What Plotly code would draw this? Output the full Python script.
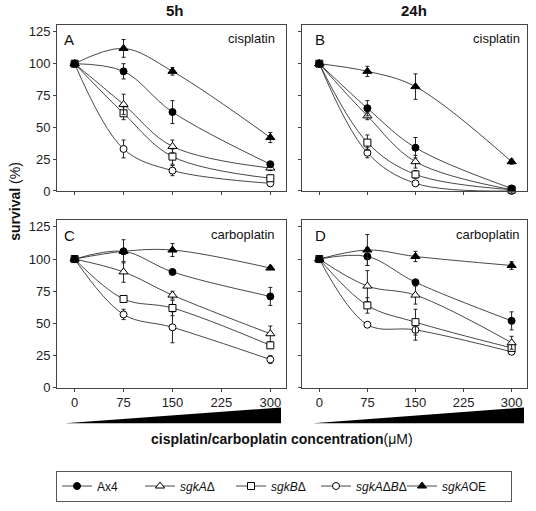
import plotly.graph_objects as go

W, H = 536, 511

conc = [0, 75, 150, 300]
strains = ["Ax4", "sgkAΔ", "sgkBΔ", "sgkAΔBΔ", "sgkAOE"]
legend_names = ["Ax4", "<i>sgkA</i>Δ", "<i>sgkB</i>Δ", "<i>sgkA</i>Δ<i>B</i>Δ", "<i>sgkA</i>OE"]

# survival (%) per panel, per strain
cis_5h = {
    "Ax4": [100, 94, 62, 21],
    "sgkAΔ": [100, 68, 35, 18],
    "sgkBΔ": [100, 61, 27, 10],
    "sgkAΔBΔ": [100, 33, 16, 6],
    "sgkAOE": [100, 112, 94, 42],
}
cis_5h_err = {
    "Ax4": [0, 6, 9, 2],
    "sgkAΔ": [0, 8, 5, 2],
    "sgkBΔ": [0, 5, 6, 2],
    "sgkAΔBΔ": [0, 7, 4, 2],
    "sgkAOE": [0, 7, 3, 4],
}
cis_24h = {
    "Ax4": [100, 65, 34, 2],
    "sgkAΔ": [100, 59, 23, 1],
    "sgkBΔ": [100, 38, 13, 1],
    "sgkAΔBΔ": [100, 30, 6, 0],
    "sgkAOE": [100, 94, 82, 23],
}
cis_24h_err = {
    "Ax4": [0, 6, 8, 1],
    "sgkAΔ": [0, 3, 5, 1],
    "sgkBΔ": [0, 6, 3, 1],
    "sgkAΔBΔ": [0, 4, 2, 0],
    "sgkAOE": [0, 4, 10, 2],
}
carbo_5h = {
    "Ax4": [100, 106, 90, 71],
    "sgkAΔ": [100, 90, 72, 42],
    "sgkBΔ": [100, 69, 62, 33],
    "sgkAΔBΔ": [100, 57, 47, 22],
    "sgkAOE": [100, 106, 107, 93],
}
carbo_5h_err = {
    "Ax4": [0, 9, 1, 7],
    "sgkAΔ": [0, 8, 3, 6],
    "sgkBΔ": [0, 1, 6, 2],
    "sgkAΔBΔ": [0, 4, 12, 3],
    "sgkAOE": [0, 2, 5, 1],
}
carbo_24h = {
    "Ax4": [100, 102, 82, 52],
    "sgkAΔ": [100, 79, 72, 35],
    "sgkBΔ": [100, 64, 51, 31],
    "sgkAΔBΔ": [100, 49, 45, 28],
    "sgkAOE": [100, 107, 102, 95],
}
carbo_24h_err = {
    "Ax4": [0, 7, 1, 7],
    "sgkAΔ": [0, 12, 7, 5],
    "sgkBΔ": [0, 6, 10, 2],
    "sgkAΔBΔ": [0, 1, 8, 2],
    "sgkAOE": [0, 12, 4, 3],
}

y_ticks = [0, 25, 50, 75, 100, 125]
x_ticks = [0, 75, 150, 225, 300]

styles = {
    "Ax4": dict(symbol="circle", color="black", size=7),
    "sgkAΔ": dict(symbol="triangle-up", color="white", size=8),
    "sgkBΔ": dict(symbol="square", color="white", size=7),
    "sgkAΔBΔ": dict(symbol="circle", color="white", size=7),
    "sgkAOE": dict(symbol="triangle-up", color="black", size=8),
}
# legend entry widths (text part), to space the entries like the original
legend_widths = {"Ax4": 38, "sgkAΔ": 46, "sgkBΔ": 40, "sgkAΔBΔ": 41, "sgkAOE": 64}

panels = [
    ("x", "y", cis_5h, cis_5h_err, True),
    ("x2", "y2", cis_24h, cis_24h_err, False),
    ("x3", "y3", carbo_5h, carbo_5h_err, False),
    ("x4", "y4", carbo_24h, carbo_24h_err, False),
]

FONT = "Arial, Liberation Sans, sans-serif"
fig = go.Figure()

draw_order = ["sgkAΔBΔ", "sgkBΔ", "sgkAΔ", "Ax4", "sgkAOE"]
for xa, ya, data, err, showleg in panels:
    for s in draw_order:
        st = styles[s]
        fig.add_trace(go.Scatter(
            x=conc, y=data[s], xaxis=xa, yaxis=ya,
            mode="lines+markers",
            name=legend_names[strains.index(s)],
            legendgroup=s, showlegend=showleg,
            legendrank=strains.index(s),
            legendwidth=legend_widths[s],
            line=dict(color="#333333", width=0.9, shape="spline", smoothing=1.0),
            marker=dict(symbol=st["symbol"], size=st["size"], color=st["color"],
                        line=dict(color="black", width=1)),
            error_y=dict(type="data", array=err[s], visible=True,
                         color="#222222", thickness=1, width=2),
            cliponaxis=False,
        ))

def px_x(p):
    return p / W

def px_y(p):
    return 1 - p / H

colA = [px_x(57), px_x(286)]
colB = [px_x(302), px_x(527)]
rowT = [px_y(194), px_y(25)]
rowB = [px_y(394), px_y(223)]

axis_common = dict(showline=True, linecolor="#444444", linewidth=1, mirror=True,
                   ticks="outside", ticklen=3, tickcolor="#444444", tickwidth=1,
                   showgrid=False, zeroline=False,
                   tickfont=dict(family=FONT, size=13, color="#222222"))
xr = [-27, 324]
yr = [0, 130.7]

layout_axes = {
    "xaxis": dict(domain=colA, anchor="y", range=xr, tickvals=x_ticks, showticklabels=False, **axis_common),
    "yaxis": dict(domain=rowT, anchor="x", range=yr, tickvals=y_ticks, showticklabels=True, **axis_common),
    "xaxis2": dict(domain=colB, anchor="y2", range=xr, tickvals=x_ticks, showticklabels=False, **axis_common),
    "yaxis2": dict(domain=rowT, anchor="x2", range=yr, tickvals=y_ticks, showticklabels=False, **axis_common),
    "xaxis3": dict(domain=colA, anchor="y3", range=xr, tickvals=x_ticks, showticklabels=True, **axis_common),
    "yaxis3": dict(domain=rowB, anchor="x3", range=yr, tickvals=y_ticks, showticklabels=True, **axis_common),
    "xaxis4": dict(domain=colB, anchor="y4", range=xr, tickvals=x_ticks, showticklabels=True, **axis_common),
    "yaxis4": dict(domain=rowB, anchor="x4", range=yr, tickvals=y_ticks, showticklabels=False, **axis_common),
}

def ann(text, x, y, size, xanchor="center", textangle=0):
    return dict(text=text, x=px_x(x), y=px_y(y), xref="paper", yref="paper",
                xanchor=xanchor, yanchor="middle", showarrow=False, textangle=textangle,
                font=dict(family=FONT, size=size, color="#111111"))

annotations = [
    ann("<b>5h</b>", 175, 11, 15),
    ann("<b>24h</b>", 414, 11, 15),
    ann("A", 62, 40, 15, "left"),
    ann("B", 313, 40, 15, "left"),
    ann("C", 62, 239, 15, "left"),
    ann("D", 313, 239, 15, "left"),
    ann("cisplatin", 277, 39, 13, "right"),
    ann("cisplatin", 522, 39, 13, "right"),
    ann("carboplatin", 277, 238, 13, "right"),
    ann("carboplatin", 522, 238, 13, "right"),
    ann("<b>cisplatin/carboplatin concentration</b>(μM)", 282, 446, 14),
    ann("<b>survival</b> (%)", 15, 205, 14, textangle=-90),
]

def wedge(x0, x1, ytop, ybot):
    return dict(type="path", xref="paper", yref="paper",
                path=f"M {px_x(x0)},{px_y(ybot)} L {px_x(x1)},{px_y(ytop)} L {px_x(x1)},{px_y(ybot)} Z",
                fillcolor="black", line=dict(width=0))

shapes = [wedge(65, 281, 414, 430), wedge(313, 524, 414, 430)]

fig.update_layout(
    width=W, height=H,
    margin=dict(l=0, r=0, t=0, b=0),
    paper_bgcolor="white", plot_bgcolor="white",
    font=dict(family=FONT, size=12, color="#111111"),
    showlegend=True,
    legend=dict(orientation="h", x=px_x(56), xanchor="left", y=px_y(478), yanchor="top",
                bordercolor="#555555", borderwidth=1, bgcolor="white",
                font=dict(family=FONT, size=12, color="#111111"),
                traceorder="normal", itemwidth=30),
    annotations=annotations,
    shapes=shapes,
    **layout_axes,
)

# remove the default page margin so the figure sits at the window's top-left corner
fig.write_html("out.html",
               config={"displayModeBar": False},
               post_script="document.body.style.margin='0';document.body.style.padding='0';")
